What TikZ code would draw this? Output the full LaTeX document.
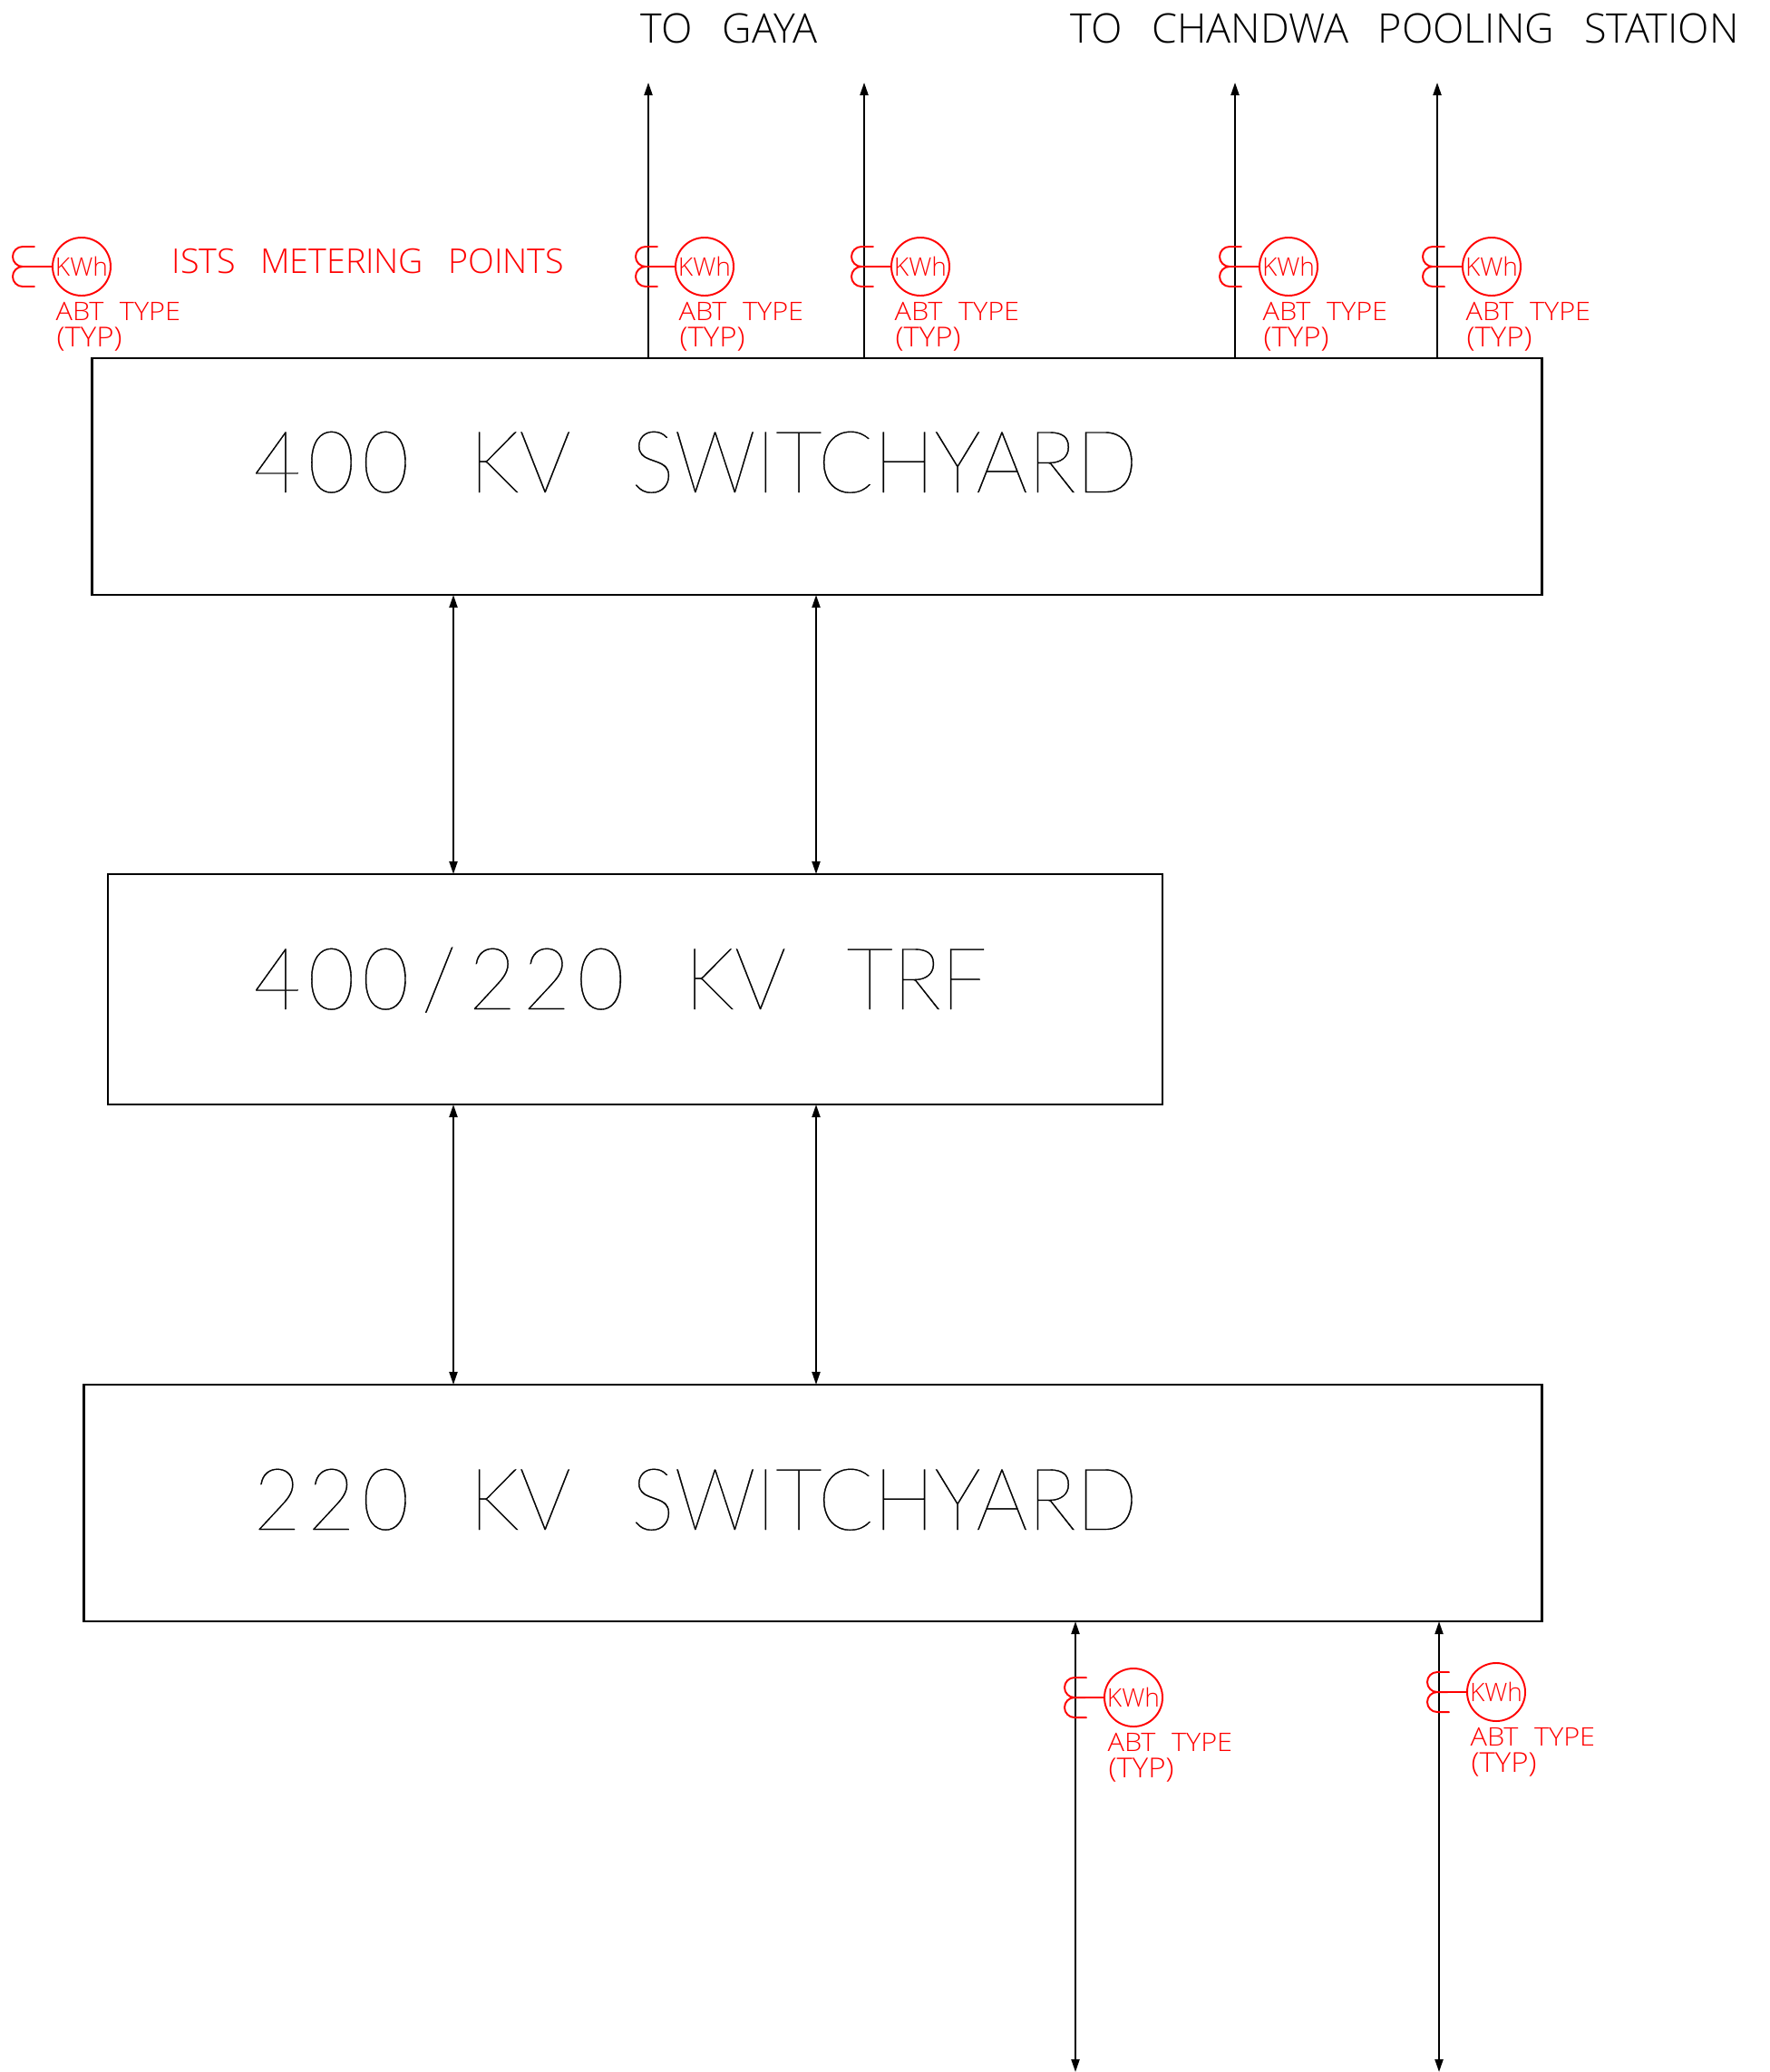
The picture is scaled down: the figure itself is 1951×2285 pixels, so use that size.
\documentclass[tikz,border=0pt]{standalone}
\usepackage{fontspec}
\setmainfont{Open Sans Light}[WordSpace=2.8]
\newfontfamily\labfont{Open Sans Light}[WordSpace=2.2,FakeStretch=1.09]
\newfontfamily\bigfont{Lato Thin}[WordSpace=2.6,FakeStretch=0.945,FakeBold=0.4]
\usetikzlibrary{arrows.meta}

\tikzset{
  swbox/.style={draw, line width=0.65pt, rectangle, inner sep=0pt, outer sep=0pt},
  feeder/.style={line width=0.6pt},
  mline/.style={red, line width=0.55pt, line cap=round},
  kwh/.style={mline, draw, circle, minimum size=0.64cm, inner sep=0pt, outer sep=0pt, font=\fontsize{8pt}{8pt}\selectfont},
  redtxt/.style={red, anchor=base west, inner sep=0pt, font=\labfont\fontsize{8pt}{9pt}\selectfont},
  bigtxt/.style={anchor=base west, inner sep=0pt, font=\bigfont\fontsize{27pt}{30pt}\selectfont},
  toptxt/.style={anchor=base west, inner sep=0pt, font=\fontsize{12.8pt}{14pt}\selectfont},
  tip/.style={-{Triangle[length=0.14cm,width=0.09cm]}},
  tips/.style={{Triangle[length=0.14cm,width=0.09cm]}-{Triangle[length=0.14cm,width=0.09cm]}}
}

\newcommand{\meter}[3]{
  \node[kwh] (#1) at (#2,#3) {KWh};
  \draw[mline] ([shift={(-52,-22)}]#1.center) -- ++(-13,0) arc (90:270:0.11cm) -- (#1.west);
  \draw[mline] ([shift={(-65,0)}]#1.center) arc (90:270:0.11cm) -- ++(13,0);
  \node[redtxt] (#1abt) at ([shift={(-29,59)}]#1.center) {ABT TYPE};
  \node[redtxt, font=\labfont\fontsize{8.6pt}{9pt}\selectfont] (#1typ) at ([shift={(-28,88)}]#1.center) {(TYP)};
}
\newcommand{\dig}[3]{#1\kern2.2pt#2\kern2.2pt#3}

\begin{document}
\begin{tikzpicture}[x=0.01cm,y=-0.01cm]
\useasboundingbox (0,0) rectangle (1951,2285);

\node[swbox, minimum width=15.98cm, minimum height=2.61cm] (yard400) at (901,525.5) {};
\node[swbox, minimum width=11.625cm, minimum height=2.54cm] (trf) at (700.5,1091) {};
\node[swbox, minimum width=16.07cm, minimum height=2.61cm] (yard220) at (896.5,1657.5) {};

\node[bigtxt] (t400) at (279,543) {\dig400 KV SWITCHYARD};
\node[bigtxt] (ttrf) at (279,1113) {\dig400\kern4pt/\kern4pt\dig220 KV TRF};
\node[bigtxt] (t220) at (279,1687) {\dig220 KV SWITCHYARD};
\node[toptxt] (tgaya) at (706,48) {TO GAYA};
\node[toptxt] (tchandwa) at (1180,48) {TO CHANDWA POOLING STATION};

\coordinate (gaya1) at (715,91);
\coordinate (gaya2) at (953,91);
\coordinate (chan1) at (1362,91);
\coordinate (chan2) at (1585,91);
\coordinate (tie1) at (500,964);
\coordinate (tie2) at (900,964);
\coordinate (out1) at (1186,2285);
\coordinate (out2) at (1587,2285);

\draw[feeder, tip] (gaya1 |- yard400.north) -- (gaya1);
\draw[feeder, tip] (gaya2 |- yard400.north) -- (gaya2);
\draw[feeder, tip] (chan1 |- yard400.north) -- (chan1);
\draw[feeder, tip] (chan2 |- yard400.north) -- (chan2);
\draw[feeder, tips] (tie1 |- yard400.south) -- (tie1 |- trf.north);
\draw[feeder, tips] (tie2 |- yard400.south) -- (tie2 |- trf.north);
\draw[feeder, tips] (tie1 |- trf.south) -- (tie1 |- yard220.north);
\draw[feeder, tips] (tie2 |- trf.south) -- (tie2 |- yard220.north);
\draw[feeder, tips] (out1 |- yard220.south) -- (out1);
\draw[feeder, tips] (out2 |- yard220.south) -- (out2);

\meter{mkey}{90}{294}
\meter{mgayaa}{777}{294}
\meter{mgayab}{1015}{294}
\meter{mchana}{1421}{294}
\meter{mchanb}{1645}{294}
\meter{mouta}{1250}{1872}
\meter{moutb}{1650}{1866}
\node[redtxt, font=\fontsize{10.7pt}{12pt}\selectfont] (tists) at (189,301) {ISTS METERING POINTS};
\end{tikzpicture}
\end{document}
